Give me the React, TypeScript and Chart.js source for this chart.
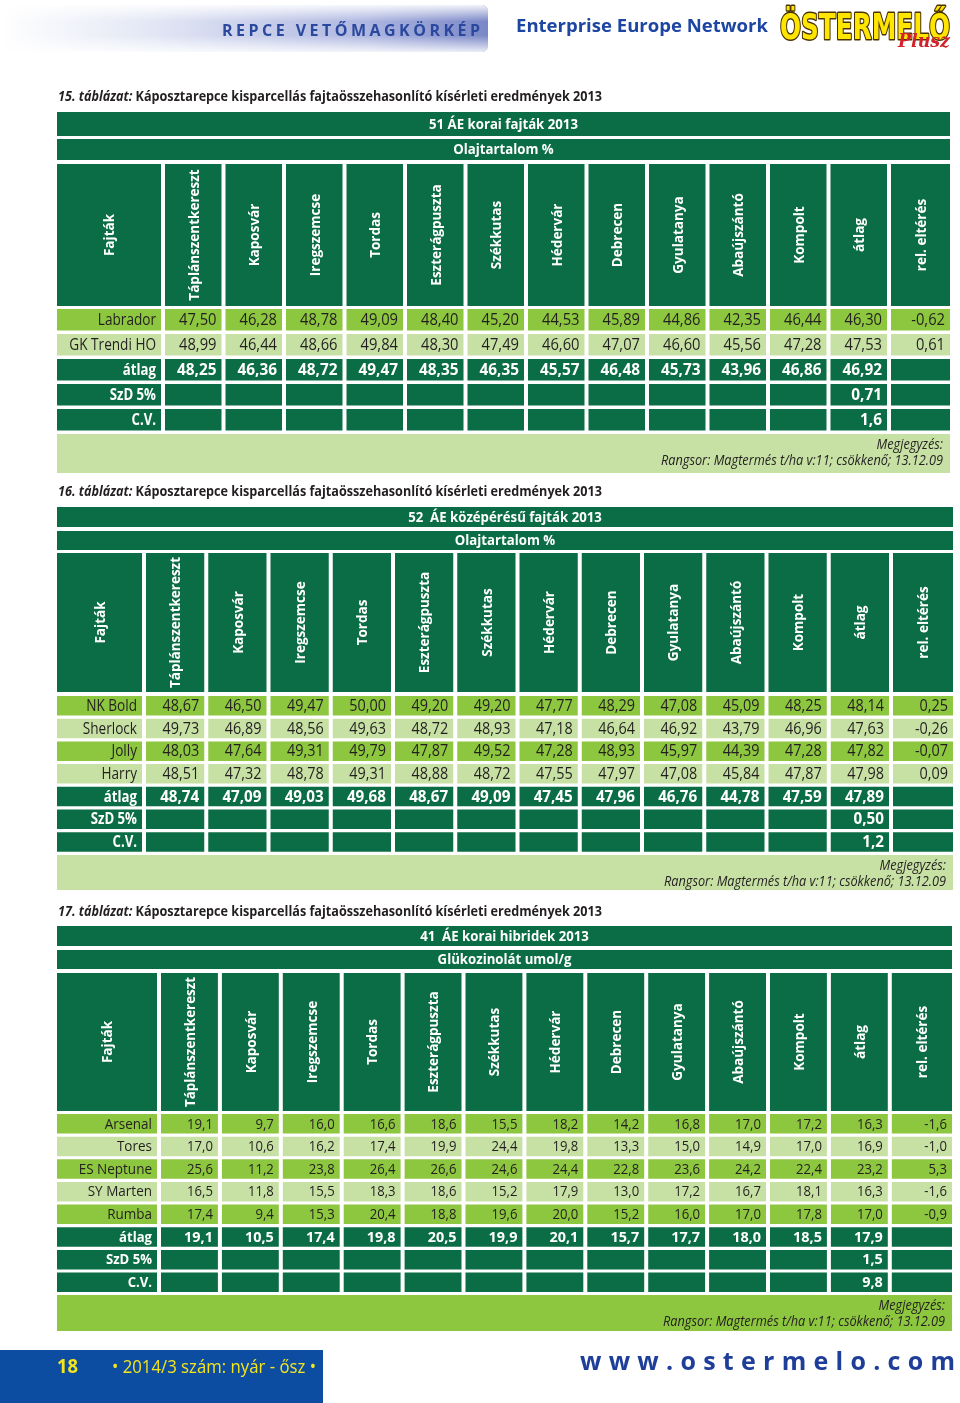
import React, { useEffect, useRef } from 'react';
import { Chart, registerables } from 'chart.js';

Chart.register(...registerables);

// ================= DATA =================
const SITE_COLUMNS = ['Táplánszentkereszt', 'Kaposvár', 'Iregszemcse', 'Tordas', 'Eszterágpuszta', 'Székkutas', 'Hédervár', 'Debrecen', 'Gyulatanya', 'Abaújszántó', 'Kompolt', 'átlag', 'rel. eltérés'];
const VARIETY_HEADER = 'Fajták';
const SUMMARY_LABELS = ['átlag', 'SzD 5%', 'C.V.'];
const TITLE_TEXT = ' Káposztarepce kisparcellás fajtaösszehasonlító kísérleti eredmények 2013';
const NOTE_LINES = ['Megjegyzés:', 'Rangsor: Magtermés t/ha v:11; csökkenő; 13.12.09'];

// Table 15
const T15_NUMBER = '15. táblázat:';
const T15_GROUP = '51 ÁE korai fajták 2013';
const T15_TRAIT = 'Olajtartalom %';
const T15_VARIETIES = ['Labrador', 'GK Trendi HO'];
const T15_LABRADOR = [47.50, 46.28, 48.78, 49.09, 48.40, 45.20, 44.53, 45.89, 44.86, 42.35, 46.44, 46.30, -0.62];
const T15_GK_TRENDI_HO = [48.99, 46.44, 48.66, 49.84, 48.30, 47.49, 46.60, 47.07, 46.60, 45.56, 47.28, 47.53, 0.61];
const T15_MEAN = [48.25, 46.36, 48.72, 49.47, 48.35, 46.35, 45.57, 46.48, 45.73, 43.96, 46.86, 46.92];
const T15_SZD = 0.71;
const T15_CV = 1.6;

// Table 16
const T16_NUMBER = '16. táblázat:';
const T16_GROUP = '52  ÁE középérésű fajták 2013';
const T16_TRAIT = 'Olajtartalom %';
const T16_VARIETIES = ['NK Bold', 'Sherlock', 'Jolly', 'Harry'];
const T16_NK_BOLD = [48.67, 46.50, 49.47, 50.00, 49.20, 49.20, 47.77, 48.29, 47.08, 45.09, 48.25, 48.14, 0.25];
const T16_SHERLOCK = [49.73, 46.89, 48.56, 49.63, 48.72, 48.93, 47.18, 46.64, 46.92, 43.79, 46.96, 47.63, -0.26];
const T16_JOLLY = [48.03, 47.64, 49.31, 49.79, 47.87, 49.52, 47.28, 48.93, 45.97, 44.39, 47.28, 47.82, -0.07];
const T16_HARRY = [48.51, 47.32, 48.78, 49.31, 48.88, 48.72, 47.55, 47.97, 47.08, 45.84, 47.87, 47.98, 0.09];
const T16_MEAN = [48.74, 47.09, 49.03, 49.68, 48.67, 49.09, 47.45, 47.96, 46.76, 44.78, 47.59, 47.89];
const T16_SZD = 0.50;
const T16_CV = 1.2;

// Table 17
const T17_NUMBER = '17. táblázat:';
const T17_GROUP = '41  ÁE korai hibridek 2013';
const T17_TRAIT = 'Glükozinolát umol/g';
const T17_VARIETIES = ['Arsenal', 'Tores', 'ES Neptune', 'SY Marten', 'Rumba'];
const T17_ARSENAL = [19.1, 9.7, 16.0, 16.6, 18.6, 15.5, 18.2, 14.2, 16.8, 17.0, 17.2, 16.3, -1.6];
const T17_TORES = [17.0, 10.6, 16.2, 17.4, 19.9, 24.4, 19.8, 13.3, 15.0, 14.9, 17.0, 16.9, -1.0];
const T17_ES_NEPTUNE = [25.6, 11.2, 23.8, 26.4, 26.6, 24.6, 24.4, 22.8, 23.6, 24.2, 22.4, 23.2, 5.3];
const T17_SY_MARTEN = [16.5, 11.8, 15.5, 18.3, 18.6, 15.2, 17.9, 13.0, 17.2, 16.7, 18.1, 16.3, -1.6];
const T17_RUMBA = [17.4, 9.4, 15.3, 20.4, 18.8, 19.6, 20.0, 15.2, 16.0, 17.0, 17.8, 17.0, -0.9];
const T17_MEAN = [19.1, 10.5, 17.4, 19.8, 20.5, 19.9, 20.1, 15.7, 17.7, 18.0, 18.5, 17.9];
const T17_SZD = 1.5;
const T17_CV = 9.8;

// Page texts
const BANNER_TEXT = 'REPCE VETŐMAGKÖRKÉP';
const NETWORK_TEXT = 'Enterprise Europe Network';
const LOGO_TEXT = 'ÖSTERMELŐ';
const LOGO_SUB = 'Plusz';
const PAGE_NUMBER = '18';
const ISSUE_TEXT = '• 2014/3 szám: nyár - ősz •';
const WEBSITE = 'www.ostermelo.com';

// ================= STYLE / LAYOUT =================
const DARK = '#0b6d45';
const BRIGHT = '#8dc63f';
const LIGHT = '#c7e1a5';
const INK = '#231f20';
const WHITE = '#ffffff';
const FONT = '"Open Sans", "Noto Sans", sans-serif';

const LAYOUT_15 = { titleY: 97, left: 57, labelRight: 161, colStart: 165, pitch: 60.5, gap: 4, right: 950, band1: [112, 136], band2: [139, 160], header: [164, 306], rowTop: 309, rowPitch: 25, rowH: 21.5, note: [434, 473], noteColor: LIGHT, font: { size: 16, numSx: 0.92, textSx: 0.85, boldNumSx: 0.96 } };
const LAYOUT_16 = { titleY: 492, left: 57, labelRight: 142, colStart: 146, pitch: 62.25, gap: 4, right: 953, band1: [507, 527], band2: [531, 550], header: [553, 692], rowTop: 696, rowPitch: 22.7, rowH: 19.5, note: [855, 890], noteColor: LIGHT, font: { size: 16, numSx: 0.9, textSx: 0.85, boldNumSx: 0.95 } };
const LAYOUT_17 = { titleY: 912, left: 57, labelRight: 157, colStart: 161, pitch: 60.9, gap: 4, right: 952, band1: [926, 946], band2: [950, 969], header: [973, 1111], rowTop: 1114, rowPitch: 22.65, rowH: 19.5, note: [1295, 1331], noteColor: BRIGHT, font: { size: 15, numSx: 0.875, textSx: 0.9, boldNumSx: 0.96 } };

const TABLES = [
  { number: T15_NUMBER, group: T15_GROUP, trait: T15_TRAIT, varieties: T15_VARIETIES, rows: [T15_LABRADOR, T15_GK_TRENDI_HO], mean: T15_MEAN, szd: T15_SZD, cv: T15_CV, decimals: 2, szdDecimals: 2, cvDecimals: 1, layout: LAYOUT_15 },
  { number: T16_NUMBER, group: T16_GROUP, trait: T16_TRAIT, varieties: T16_VARIETIES, rows: [T16_NK_BOLD, T16_SHERLOCK, T16_JOLLY, T16_HARRY], mean: T16_MEAN, szd: T16_SZD, cv: T16_CV, decimals: 2, szdDecimals: 2, cvDecimals: 1, layout: LAYOUT_16 },
  { number: T17_NUMBER, group: T17_GROUP, trait: T17_TRAIT, varieties: T17_VARIETIES, rows: [T17_ARSENAL, T17_TORES, T17_ES_NEPTUNE, T17_SY_MARTEN, T17_RUMBA], mean: T17_MEAN, szd: T17_SZD, cv: T17_CV, decimals: 1, szdDecimals: 1, cvDecimals: 1, layout: LAYOUT_17 },
];

const fmt = (v: number, d: number) => v.toFixed(d).replace('.', ',');

type Cell = { x0: number; x1: number; color: string; text?: string; kind?: string };

function rowDataset(cells: Cell[], y0: number, y1: number, tableFont: any) {
  const h = y1 - y0;
  return {
    type: 'bar',
    data: cells.map((c) => ({ x: [c.x0, c.x1], y: y0 + h / 2 })),
    backgroundColor: cells.map((c) => c.color),
    borderWidth: 0,
    barThickness: h,
    grouped: false,
    inflateAmount: 0,
    cells,
    tableFont,
  };
}

function buildDatasets() {
  const out: any[] = [];
  TABLES.forEach((t) => {
    const L = t.layout;
    const f = L.font;
    const col = (i: number) => {
      const a = L.colStart + i * L.pitch;
      const b = i === SITE_COLUMNS.length - 1 ? L.right : a + L.pitch - L.gap;
      return [a, b];
    };
    out.push(rowDataset([{ x0: L.left, x1: L.right, color: DARK, text: t.group, kind: 'band' }], L.band1[0], L.band1[1], f));
    out.push(rowDataset([{ x0: L.left, x1: L.right, color: DARK, text: t.trait, kind: 'band' }], L.band2[0], L.band2[1], f));
    const header: Cell[] = [{ x0: L.left, x1: L.labelRight, color: DARK, text: VARIETY_HEADER, kind: 'header' }];
    SITE_COLUMNS.forEach((c, i) => { const [a, b] = col(i); header.push({ x0: a, x1: b, color: DARK, text: c, kind: 'header' }); });
    out.push(rowDataset(header, L.header[0], L.header[1], f));

    let r = 0;
    t.varieties.forEach((name, vi) => {
      const color = vi % 2 === 0 ? BRIGHT : LIGHT;
      const vals = t.rows[vi];
      const cells: Cell[] = [{ x0: L.left, x1: L.labelRight, color, text: name, kind: 'label' }];
      vals.forEach((v, i) => { const [a, b] = col(i); cells.push({ x0: a, x1: b, color, text: fmt(v, t.decimals), kind: 'num' }); });
      const y0 = L.rowTop + r * L.rowPitch;
      out.push(rowDataset(cells, y0, y0 + L.rowH, f));
      r++;
    });
    // mean row
    {
      const cells: Cell[] = [{ x0: L.left, x1: L.labelRight, color: DARK, text: SUMMARY_LABELS[0], kind: 'labelBold' }];
      SITE_COLUMNS.forEach((_, i) => {
        const [a, b] = col(i);
        const v = t.mean[i];
        cells.push({ x0: a, x1: b, color: DARK, text: v === undefined ? '' : fmt(v, t.decimals), kind: 'numBold' });
      });
      const y0 = L.rowTop + r * L.rowPitch;
      out.push(rowDataset(cells, y0, y0 + L.rowH, f));
      r++;
    }
    // SzD and CV rows (value in the 'átlag' column)
    [[SUMMARY_LABELS[1], fmt(t.szd, t.szdDecimals)], [SUMMARY_LABELS[2], fmt(t.cv, t.cvDecimals)]].forEach(([label, value]) => {
      const cells: Cell[] = [{ x0: L.left, x1: L.labelRight, color: DARK, text: label, kind: 'labelBold' }];
      SITE_COLUMNS.forEach((c, i) => {
        const [a, b] = col(i);
        cells.push({ x0: a, x1: b, color: DARK, text: c === 'átlag' ? value : '', kind: 'numBold' });
      });
      const y0 = L.rowTop + r * L.rowPitch;
      out.push(rowDataset(cells, y0, y0 + L.rowH, f));
      r++;
    });
    out.push(rowDataset([{ x0: L.left, x1: L.right, color: L.noteColor, text: NOTE_LINES.join('\n'), kind: 'note' }], L.note[0], L.note[1], f));
  });
  return out;
}

// ================= DRAW HELPERS =================
function drawText(ctx: CanvasRenderingContext2D, text: string, x: number, y: number, o: any) {
  ctx.save();
  ctx.font = o.font;
  const natural = ctx.measureText(text).width || 1;
  let sx = o.width ? o.width / natural : (o.sx ?? 1);
  if (o.maxWidth && natural * sx > o.maxWidth) sx = o.maxWidth / natural;
  const w = natural * sx;
  const align = o.align || 'left';
  const left = align === 'right' ? x - w : align === 'center' ? x - w / 2 : x;
  ctx.translate(left, y);
  ctx.scale(sx, 1);
  ctx.textAlign = 'left';
  ctx.textBaseline = o.baseline || 'middle';
  if (o.stroke) {
    ctx.lineJoin = 'round';
    ctx.lineWidth = o.strokeWidth || 2;
    ctx.strokeStyle = o.stroke;
    ctx.strokeText(text, 0, 0);
  }
  ctx.fillStyle = o.color;
  ctx.fillText(text, 0, 0);
  ctx.restore();
  return w;
}

function drawSpaced(ctx: CanvasRenderingContext2D, text: string, x0: number, x1: number, y: number, font: string, color: string) {
  ctx.save();
  ctx.font = font;
  ctx.fillStyle = color;
  ctx.textAlign = 'left';
  ctx.textBaseline = 'alphabetic';
  const chars = Array.from(text);
  const widths = chars.map((c) => ctx.measureText(c).width);
  const total = widths.reduce((a, b) => a + b, 0);
  const sp = chars.length > 1 ? (x1 - x0 - total) / (chars.length - 1) : 0;
  let x = x0;
  chars.forEach((c, i) => { ctx.fillText(c, x, y); x += widths[i] + sp; });
  ctx.restore();
}

const pagePlugin = {
  id: 'pageDecor',
  beforeDraw(chart: any) {
    const ctx = chart.ctx;
    ctx.save();
    ctx.fillStyle = '#ffffff';
    ctx.fillRect(0, 0, chart.width, chart.height);
    ctx.restore();
  },
  beforeDatasetsDraw(chart: any) {
    const ctx: CanvasRenderingContext2D = chart.ctx;
    const sx = chart.scales.x, sy = chart.scales.y;
    const X = (v: number) => sx.getPixelForValue(v);
    const Y = (v: number) => sy.getPixelForValue(v);

    // --- top banner ---
    ctx.save();
    const bx0 = X(0), bx1 = X(488), by0 = Y(5), by1 = Y(52);
    ctx.beginPath();
    if ((ctx as any).roundRect) (ctx as any).roundRect(bx0 - 6, by0, bx1 - bx0 + 6, by1 - by0, 6);
    else ctx.rect(bx0, by0, bx1 - bx0, by1 - by0);
    const hg = ctx.createLinearGradient(bx0, 0, bx1, 0);
    hg.addColorStop(0, '#ffffff');
    hg.addColorStop(0.3, '#e3e7f5');
    hg.addColorStop(0.75, '#aab3df');
    hg.addColorStop(1, '#7381c4');
    ctx.fillStyle = hg;
    ctx.fill();
    const vg = ctx.createLinearGradient(0, by0, 0, by1);
    vg.addColorStop(0, 'rgba(255,255,255,0.9)');
    vg.addColorStop(0.35, 'rgba(255,255,255,0.05)');
    vg.addColorStop(0.65, 'rgba(255,255,255,0.05)');
    vg.addColorStop(1, 'rgba(255,255,255,0.85)');
    ctx.fillStyle = vg;
    ctx.fill();
    ctx.restore();
    drawSpaced(ctx, BANNER_TEXT, X(222), X(480), Y(35.5), `700 16px ${FONT}`, '#2a489e');
    drawText(ctx, NETWORK_TEXT, X(516), Y(32), { font: `700 18px ${FONT}`, color: '#1c46a2', width: 252, baseline: 'alphabetic' });
    drawText(ctx, LOGO_TEXT, X(780), Y(39), { font: `900 36px "DejaVu Sans", ${FONT}`, color: '#ffe600', width: 170, baseline: 'alphabetic', stroke: '#4a3300', strokeWidth: 3 });
    drawText(ctx, LOGO_SUB, X(898), Y(47), { font: `italic 700 19px "DejaVu Serif", serif`, color: '#d2232a', width: 52, baseline: 'alphabetic' });

    // --- titles ---
    TABLES.forEach((t) => {
      const y = Y(t.layout.titleY);
      const fItalic = `italic 700 14.5px ${FONT}`;
      const fBold = `700 14.5px ${FONT}`;
      ctx.save();
      ctx.font = fItalic;
      const w1 = ctx.measureText(t.number).width;
      ctx.font = fBold;
      const w2 = ctx.measureText(TITLE_TEXT).width;
      ctx.restore();
      const s = 544 / (w1 + w2);
      drawText(ctx, t.number, X(58), y, { font: fItalic, color: INK, sx: s });
      drawText(ctx, TITLE_TEXT, X(58) + w1 * s, y, { font: fBold, color: INK, sx: s });
    });

    // --- footer ---
    ctx.save();
    ctx.fillStyle = '#0c4da2';
    ctx.fillRect(X(0), Y(1350), X(323) - X(0), Y(1403) - Y(1350));
    ctx.restore();
    drawText(ctx, PAGE_NUMBER, X(57), Y(1373), { font: `700 19px ${FONT}`, color: '#f4e51c', width: 21, baseline: 'alphabetic' });
    drawText(ctx, ISSUE_TEXT, X(112), Y(1373), { font: `400 18px ${FONT}`, color: '#f4e51c', width: 204, baseline: 'alphabetic' });
    drawSpaced(ctx, WEBSITE, X(580), X(955), Y(1370), `700 25px ${FONT}`, '#1e3e9a');
  },
  afterDatasetsDraw(chart: any) {
    const ctx: CanvasRenderingContext2D = chart.ctx;
    chart.data.datasets.forEach((ds: any, di: number) => {
      const meta = chart.getDatasetMeta(di);
      const f = ds.tableFont;
      meta.data.forEach((el: any, i: number) => {
        const cell = ds.cells[i];
        if (!cell || !cell.text) return;
        const p = el.getProps(['x', 'y', 'base', 'height'], true);
        const left = Math.min(p.x, p.base), right = Math.max(p.x, p.base);
        const top = p.y - p.height / 2;
        const cy = p.y + 0.5;
        const cx = (left + right) / 2;
        switch (cell.kind) {
          case 'label':
            drawText(ctx, cell.text, right - 5, cy, { font: `400 ${f.size}px ${FONT}`, color: INK, align: 'right', sx: f.textSx });
            break;
          case 'num':
            drawText(ctx, cell.text, right - 5, cy, { font: `400 ${f.size}px ${FONT}`, color: INK, align: 'right', sx: f.numSx });
            break;
          case 'labelBold':
            drawText(ctx, cell.text, right - 5, cy, { font: `700 ${f.size}px ${FONT}`, color: WHITE, align: 'right', sx: f.textSx * 0.97 });
            break;
          case 'numBold':
            drawText(ctx, cell.text, right - 5, cy, { font: `700 ${f.size}px ${FONT}`, color: WHITE, align: 'right', sx: f.boldNumSx });
            break;
          case 'band':
            drawText(ctx, cell.text, cx, cy, { font: `700 15px ${FONT}`, color: WHITE, align: 'center', sx: 0.88 });
            break;
          case 'header':
            ctx.save();
            ctx.translate(cx + 1, p.y);
            ctx.rotate(-Math.PI / 2);
            drawText(ctx, cell.text, 0, 0, { font: `700 15px ${FONT}`, color: WHITE, align: 'center', sx: 0.9, maxWidth: p.height - 8 });
            ctx.restore();
            break;
          case 'note': {
            const lines = cell.text.split('\n');
            drawText(ctx, lines[0], right - 7, top + 11, { font: `italic 400 15px ${FONT}`, color: INK, align: 'right', sx: 0.85 });
            drawText(ctx, lines[1], right - 7, top + 26.5, { font: `italic 400 15px ${FONT}`, color: INK, align: 'right', sx: 0.85 });
            break;
          }
        }
      });
    });
  },
};

export default function App() {
  const ref = useRef<HTMLCanvasElement | null>(null);
  useEffect(() => {
    if (!ref.current) return;
    const chart = new Chart(ref.current, {
      type: 'bar',
      data: { datasets: buildDatasets() as any },
      options: {
        indexAxis: 'y',
        responsive: false,
        maintainAspectRatio: false,
        animation: false,
        devicePixelRatio: 1,
        events: [],
        layout: { padding: 0 },
        scales: {
          x: { type: 'linear', min: 0, max: 960, display: false, offset: false },
          y: { type: 'linear', min: 0, max: 1403, reverse: true, display: false, offset: false },
        },
        plugins: { legend: { display: false }, tooltip: { enabled: false }, title: { display: false } },
      } as any,
      plugins: [pagePlugin as any],
    });
    return () => chart.destroy();
  }, []);
  return (
    <div style={{ position: 'absolute', left: 0, top: 0, width: 960, height: 1403, background: '#ffffff' }}>
      <canvas ref={ref} width={960} height={1403} style={{ display: 'block', width: 960, height: 1403 }} />
    </div>
  );
}
